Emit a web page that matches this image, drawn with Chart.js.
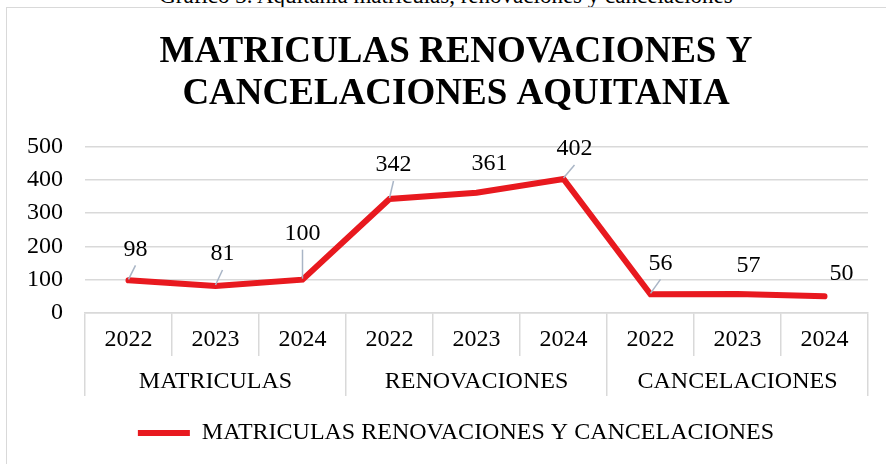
<!DOCTYPE html>
<html>
<head>
<meta charset="utf-8">
<script src="https://cdn.jsdelivr.net/npm/chart.js@4.4.1/dist/chart.umd.min.js"></script>
<style>
  body { margin: 0; background: #fff; overflow: hidden; font-family: "Liberation Serif", serif; }
  #cap { position: absolute; left: 0; width: 892px; top: -16px; text-align: center; font-size: 23px; line-height: 23px; color: #000; white-space: nowrap; }
  #box { position: absolute; left: 6px; top: 7px; width: 905px; height: 480px; border: 1px solid #d9d9d9; }
  #wrap { position: absolute; left: 0; top: 0; width: 900px; height: 470px; }
</style>
</head>
<body>
<div id="cap">Gráfico 3. Aquitania matrículas, renovaciones y cancelaciones</div>
<div id="box"><div id="wrap"><canvas id="c"></canvas></div></div>
<script>
// chart data
const years = ['2022', '2023', '2024', '2022', '2023', '2024', '2022', '2023', '2024'];
const groups = ['MATRICULAS', 'RENOVACIONES', 'CANCELACIONES'];
const values = [98, 81, 100, 342, 361, 402, 56, 57, 50];
const seriesName = 'MATRICULAS RENOVACIONES Y CANCELACIONES';
const titleLines = ['MATRICULAS RENOVACIONES Y', 'CANCELACIONES AQUITANIA'];

// where each value label sits relative to its point (pixels)
const labelShift = [[7, -31], [7, -32], [0, -46], [4, -34], [13, -29], [11, -30], [10, -31], [11, -28], [17, -23]];

const RED = '#e8191f';
const GRID = '#d9d9d9';
const FONT = '"Liberation Serif", "Times New Roman", serif';

// value labels with leader lines (like the excel ones)
const valueLabels = {
  id: 'valueLabels',
  afterDatasetsDraw(chart) {
    const ctx = chart.ctx;
    const meta = chart.getDatasetMeta(0);
    ctx.save();
    ctx.font = '24px ' + FONT;
    ctx.fillStyle = '#000';
    ctx.textAlign = 'center';
    ctx.textBaseline = 'middle';
    meta.data.forEach((pt, i) => {
      const lx = pt.x + labelShift[i][0];
      const ly = pt.y + labelShift[i][1];
      if (labelShift[i][1] <= -30) {
        ctx.strokeStyle = '#a9b5c6';
        ctx.lineWidth = 1.5;
        ctx.beginPath();
        ctx.moveTo(pt.x, pt.y - 1);
        ctx.lineTo(lx, ly + 16);
        ctx.stroke();
      }
      ctx.fillText(String(values[i]), lx, ly);
    });
    ctx.restore();
  }
};

// two level category labels, drawn inside the boxes of the axis grid
const groupedTicks = {
  id: 'groupedTicks',
  afterDraw(chart) {
    const ctx = chart.ctx;
    const sx = chart.scales.x, sg = chart.scales.x2;
    ctx.save();
    ctx.font = '24px ' + FONT;
    ctx.fillStyle = '#000';
    ctx.textAlign = 'center';
    ctx.textBaseline = 'middle';
    years.forEach((y, i) => ctx.fillText(y, sx.getPixelForTick(i), sx.top + 27));
    groups.forEach((g, i) => ctx.fillText(g, sg.getPixelForTick(i), sg.top + 26));
    ctx.restore();
  }
};

new Chart(document.getElementById('c'), {
  type: 'line',
  data: {
    labels: years,
    datasets: [{
      label: seriesName,
      data: values,
      xAxisID: 'x',
      borderColor: RED,
      backgroundColor: RED,
      borderWidth: 6,
      borderCapStyle: 'round',
      borderJoinStyle: 'miter',
      pointRadius: 0,
      tension: 0
    }]
  },
  options: {
    responsive: true,
    maintainAspectRatio: false,
    animation: false,
    layout: { padding: { left: -2, right: 0, top: 0, bottom: 23 } },
    plugins: {
      title: {
        display: true,
        text: titleLines,
        color: '#000',
        font: { family: FONT, size: 37, weight: 'bold', lineHeight: 1.14 },
        padding: { top: 23, bottom: 31 }
      },
      legend: {
        position: 'bottom',
        labels: {
          usePointStyle: true,
          pointStyle: 'line',
          pointStyleWidth: 52,
          boxWidth: 52,
          boxHeight: 6,
          color: '#000',
          font: { family: FONT, size: 24 },
          padding: 25
        }
      },
      tooltip: { enabled: false }
    },
    scales: {
      y: {
        min: 0,
        max: 500,
        ticks: { stepSize: 100, color: '#000', font: { family: FONT, size: 24 }, padding: 22 },
        grid: { color: GRID, lineWidth: 1.5, drawTicks: false },
        border: { display: false },
        afterFit: s => { s.width = 80; }
      },
      // empty right axis, only keeps the right margin so the title stays centred on the frame
      yRight: {
        position: 'right',
        display: true,
        ticks: { display: false },
        grid: { display: false, drawTicks: false },
        border: { display: false },
        afterFit: s => { s.width = 39; }
      },
      x: {
        position: 'bottom',
        offset: true,
        ticks: { display: false },
        grid: { offset: true, drawOnChartArea: false, color: GRID, lineWidth: 1.5, tickLength: 43 },
        border: { display: true, color: GRID, width: 1.5 }
      },
      x2: {
        type: 'category',
        position: 'bottom',
        labels: groups,
        offset: true,
        ticks: { display: false },
        grid: { offset: true, drawOnChartArea: false, color: GRID, lineWidth: 1.5, tickLength: 40 },
        border: { display: false }
      }
    }
  },
  plugins: [valueLabels, groupedTicks]
});
</script>
</body>
</html>
